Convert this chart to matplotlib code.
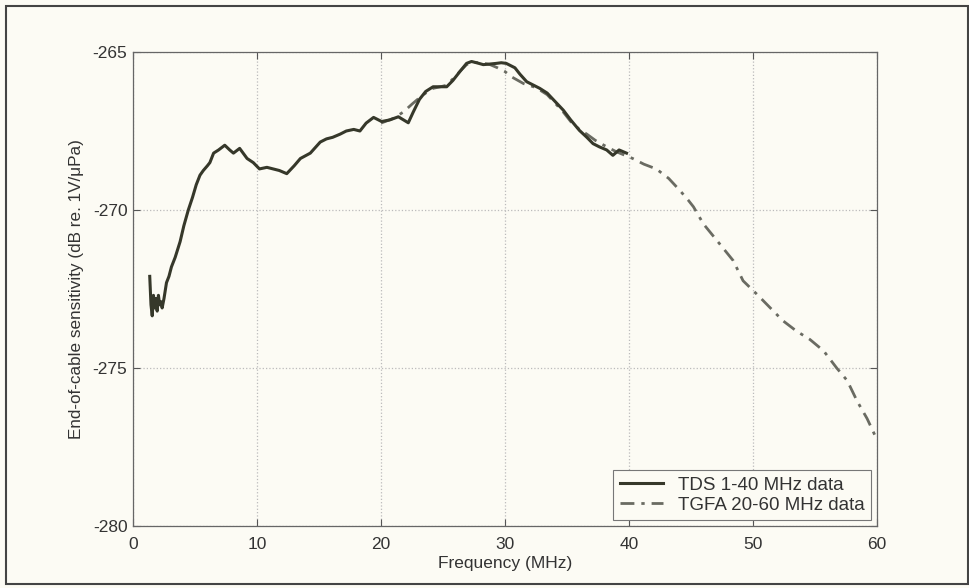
import matplotlib
matplotlib.use("Agg")
import matplotlib.pyplot as plt
from matplotlib.patches import Rectangle

tds_f = [1.35, 1.45, 1.55, 1.65, 1.75, 1.85, 1.95, 2.05, 2.15, 2.25, 2.35, 2.5, 2.7, 2.9, 3.1,
         3.4, 3.8, 4.1, 4.46, 4.8, 5.1, 5.4, 5.67, 6.0, 6.2, 6.5, 6.9, 7.4, 7.8, 8.1, 8.6, 9.2,
         9.7, 10.2, 10.8, 11.3, 11.8, 12.4, 13.0, 13.5, 14.3, 15.1, 15.6, 16.1, 16.7, 17.2, 17.8,
         18.3, 18.8, 19.4, 20.05, 20.7, 21.4, 22.2, 22.6, 23.1, 23.6, 24.2, 24.8, 25.3, 25.8,
         26.4, 26.9, 27.3, 27.8, 28.25, 28.8, 29.3, 29.7, 30.1, 30.8, 31.2, 31.75, 32.3, 32.8,
         33.4, 34.0, 34.7, 35.3, 36.0, 36.6, 37.1, 37.6, 38.2, 38.7, 39.2, 39.8]
tds_s = [-272.1, -273.0, -273.35, -272.7, -273.1, -272.8, -273.2, -272.7, -273.0, -272.9,
         -273.1, -272.8, -272.3, -272.1, -271.8, -271.5, -271.0, -270.5, -270.0, -269.6,
         -269.2, -268.9, -268.75, -268.6, -268.5, -268.2, -268.1, -267.95, -268.1, -268.2,
         -268.05, -268.37, -268.5, -268.7, -268.65, -268.7, -268.75, -268.85, -268.6, -268.37,
         -268.2, -267.85, -267.75, -267.7, -267.6, -267.5, -267.45, -267.5, -267.25, -267.07,
         -267.2, -267.15, -267.05, -267.24, -266.9, -266.5, -266.25, -266.1, -266.1, -266.1,
         -265.9, -265.6, -265.36, -265.3, -265.35, -265.4, -265.38, -265.36, -265.34, -265.36,
         -265.5, -265.7, -265.94, -266.05, -266.15, -266.3, -266.55, -266.84, -267.15, -267.48,
         -267.7, -267.9, -268.0, -268.1, -268.27, -268.1, -268.2]

tgfa_f = [20.0, 21.0, 21.8, 22.5, 23.1, 23.6, 24.2, 24.8, 25.3, 25.8, 26.4, 26.9, 27.5, 28.2,
          28.8, 29.4, 30.0, 30.5, 31.5, 32.3, 32.8, 33.4, 34.0, 34.7, 35.3, 36.0, 36.6, 37.3,
          38.2, 39.0, 40.3, 41.2, 42.2, 43.2, 44.1, 44.8, 45.2, 46.0, 47.1, 48.4, 49.2, 50.3,
          51.4, 52.4, 53.5, 54.6, 55.7, 56.75, 57.6, 58.4, 59.2, 60.0]
tgfa_s = [-267.25, -267.1, -266.9, -266.65, -266.45, -266.3, -266.15, -266.1, -266.05, -265.85,
          -265.6, -265.4, -265.33, -265.35, -265.4, -265.5, -265.62, -265.78, -266.0, -266.1,
          -266.2, -266.35, -266.6, -266.9, -267.2, -267.45, -267.6, -267.8, -268.0, -268.16,
          -268.37, -268.55, -268.7, -269.0, -269.38, -269.7, -269.9, -270.44, -270.97, -271.6,
          -272.24, -272.66, -273.1, -273.5, -273.83, -274.1, -274.46, -275.0, -275.4, -276.05,
          -276.6, -277.27]

x_ticks = [0, 10, 20, 30, 40, 50, 60]
y_ticks = [-280, -275, -270, -265]
labels = ["TDS 1-40 MHz data", "TGFA 20-60 MHz data"]

bg = "#fcfbf4"
plt.rcParams['font.family'] = ['Liberation Sans', 'DejaVu Sans']
plt.rcParams['axes.unicode_minus'] = False

fig = plt.figure(figsize=(9.7, 5.88), dpi=100, facecolor=bg)
ax = fig.add_axes([133/970, (588-526)/588, 744/970, 474/588])
ax.set_facecolor(bg)

# outer frame
fig.patches.append(Rectangle((6/970, 4/588), 962/970, 578/588, transform=fig.transFigure,
                             fill=False, edgecolor="#444444", linewidth=1.5))

ax.plot(tds_f, tds_s, color="#36382a", lw=2.2, label=labels[0], zorder=3)
ax.plot(tgfa_f, tgfa_s, color="#6a6b62", lw=2.0, linestyle=(0, (5, 2.5, 1.2, 2.5)),
        label=labels[1], zorder=2)

ax.set_xlim(0, 60)
ax.set_ylim(-280, -265)
ax.set_xticks(x_ticks)
ax.set_yticks(y_ticks)
ax.grid(True, linestyle=":", color="#bbbbbb", linewidth=0.9)
ax.tick_params(direction="in", length=5, width=0.8, color="#555555", labelsize=12.5,
               labelcolor="#333333", top=True, right=True, labeltop=False, labelright=False,
               pad=4)
ax.tick_params(axis="x", pad=8)
for s in ax.spines.values():
    s.set_color("#666666")
    s.set_linewidth(0.9)

ax.set_xlabel("Frequency (MHz)", fontsize=12.5, color="#333333", labelpad=3)
ax.set_ylabel("End-of-cable sensitivity (dB re. 1V/\u03bcPa)", fontsize=12.3, color="#333333",
              labelpad=6)

leg = ax.legend(loc="lower right", fontsize=13.5, frameon=True, fancybox=False,
                facecolor=bg, edgecolor="#777777", framealpha=1, borderaxespad=0.3,
                handlelength=2.3, handletextpad=0.8, labelspacing=0.15, borderpad=0.35)
leg.get_frame().set_linewidth(0.8)
for t in leg.get_texts():
    t.set_color("#333333")

fig.savefig("out.png", dpi=100, facecolor=bg)
